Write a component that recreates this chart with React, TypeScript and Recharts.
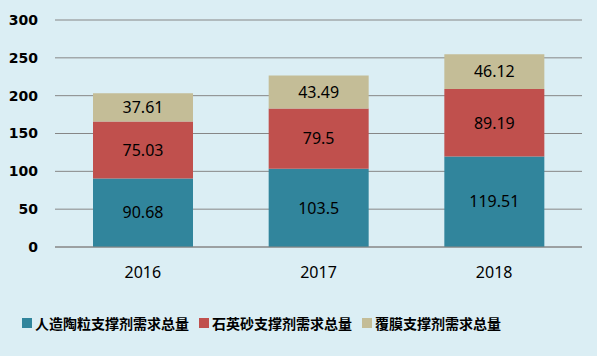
import { BarChart, Bar, XAxis, YAxis, CartesianGrid, Legend, LabelList } from 'recharts';

const years = ['2016', '2017', '2018'];
const ceramsite = [90.68, 103.5, 119.51];
const quartzSand = [75.03, 79.5, 89.19];
const coated = [37.61, 43.49, 46.12];
const yTicks = [0, 50, 100, 150, 200, 250, 300];

const seriesMeta = [
  { key: 'ceramsite', name: '人造陶粒支撑剂需求总量', color: '#31859C' },
  { key: 'quartzSand', name: '石英砂支撑剂需求总量', color: '#C0504D' },
  { key: 'coated', name: '覆膜支撑剂需求总量', color: '#C4BD97' },
];

const data = years.map((year, i) => ({
  year,
  ceramsite: ceramsite[i],
  quartzSand: quartzSand[i],
  coated: coated[i],
}));

const LegendContent = () => (
  <div
    style={{
      display: 'flex',
      alignItems: 'center',
      paddingLeft: 22,
      height: 24,
      fontFamily: '"Noto Sans CJK SC", sans-serif',
      fontWeight: 700,
      fontSize: 14,
      color: '#000',
    }}
  >
    {seriesMeta.map((s) => (
      <div key={s.key} style={{ display: 'flex', alignItems: 'center', marginRight: 10 }}>
        <span style={{ width: 10, height: 10, background: s.color, marginRight: 3, display: 'inline-block' }} />
        <span>{s.name}</span>
      </div>
    ))}
  </div>
);

export default function App() {
  return (
    <div style={{ position: 'absolute', left: 0, top: 0, width: 597, height: 356, background: '#DBEEF4' }}>
      <BarChart
        width={597}
        height={356}
        data={data}
        margin={{ top: 20, right: 15, left: 0, bottom: 55 }}
        barSize={100}
      >
        <CartesianGrid vertical={false} stroke="#868686" strokeWidth={1} />
        <XAxis
          dataKey="year"
          height={30}
          axisLine={{ stroke: '#868686' }}
          tickLine={false}
          tickMargin={14}
          tick={{ fill: '#000', fontSize: 16, fontFamily: '"Noto Sans", sans-serif' }}
        />
        <YAxis
          width={55}
          domain={[0, 300]}
          ticks={yTicks}
          axisLine={false}
          tickLine={false}
          tickMargin={11}
          tick={{ fill: '#000', fontSize: 14, fontWeight: 'bold', fontFamily: '"DejaVu Sans", sans-serif' }}
        />
        <Legend
          verticalAlign="bottom"
          content={<LegendContent />}
          wrapperStyle={{ top: 311, left: 0, bottom: 'auto', width: 597 }}
        />
        {seriesMeta.map((s) => (
          <Bar key={s.key} dataKey={s.key} name={s.name} stackId="a" fill={s.color} isAnimationActive={false}>
            <LabelList
              dataKey={s.key}
              position="center"
              fill="#000"
              style={{ fontSize: 16, fontFamily: '"Noto Sans", sans-serif' }}
            />
          </Bar>
        ))}
      </BarChart>
    </div>
  );
}
